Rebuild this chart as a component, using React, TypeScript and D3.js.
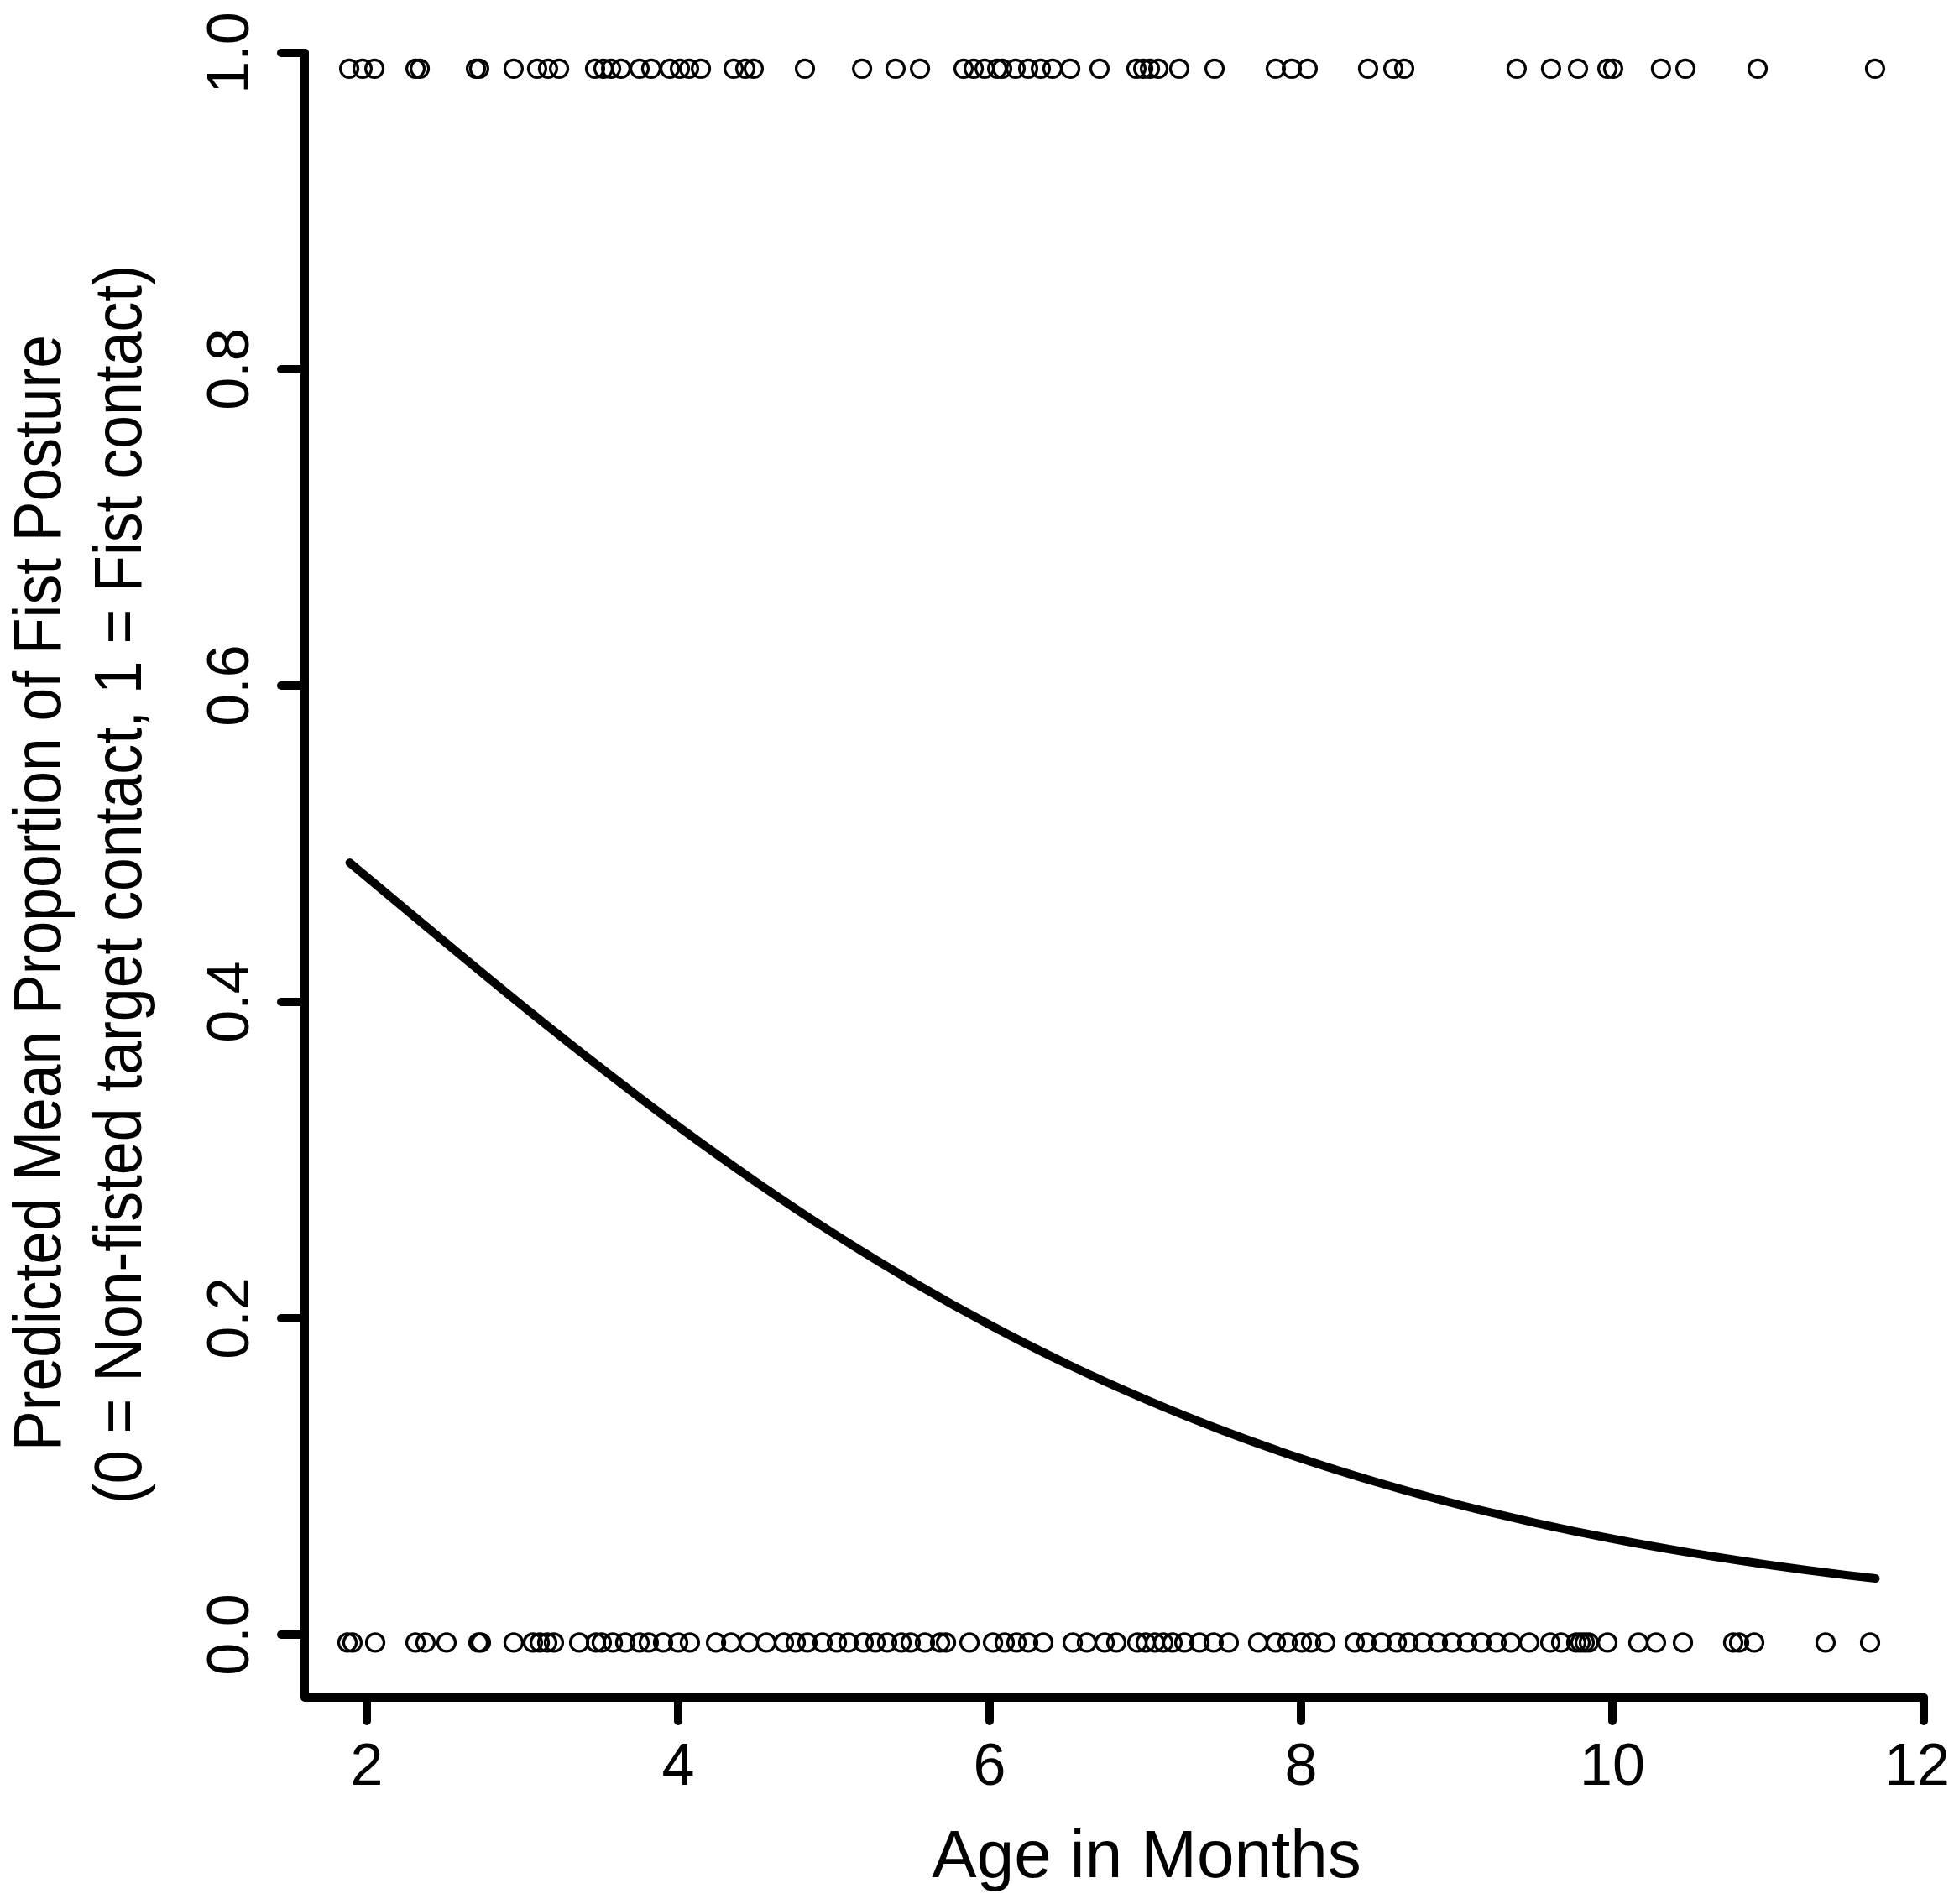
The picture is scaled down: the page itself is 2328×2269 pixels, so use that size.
import React from "react";
import * as d3 from "d3";

// Observed outcomes (age in months) — top row: fist contact (1), bottom row: non-fisted (0)
const fistAges = [
  1.887, 1.973, 2.049, 2.313, 2.34, 2.701, 2.722, 2.943, 3.094, 3.164, 3.235,
  3.466, 3.52, 3.569, 3.633, 3.752, 3.827, 3.946, 4.011, 4.07, 4.146, 4.356,
  4.431, 4.485, 4.814, 5.181, 5.396, 5.553, 5.833, 5.898, 5.968, 6.049, 6.081,
  6.167, 6.248, 6.329, 6.404, 6.518, 6.706, 6.943, 6.987, 7.03, 7.084, 7.218,
  7.445, 7.838, 7.941, 8.043, 8.431, 8.593, 8.663, 9.385, 9.606, 9.779, 9.968,
  10.005, 10.312, 10.469, 10.933, 11.687,
];
const nonFistAges = [
  1.876, 1.908, 2.054, 2.313, 2.377, 2.512, 2.717, 2.733, 2.943, 3.067, 3.111,
  3.159, 3.202, 3.364, 3.472, 3.509, 3.58, 3.66, 3.752, 3.811, 3.903, 4.0,
  4.075, 4.243, 4.34, 4.453, 4.566, 4.679, 4.755, 4.83, 4.927, 5.019, 5.094,
  5.191, 5.267, 5.342, 5.434, 5.493, 5.585, 5.682, 5.72, 5.871, 6.022, 6.097,
  6.173, 6.248, 6.345, 6.534, 6.625, 6.739, 6.814, 6.949, 7.003, 7.062, 7.116,
  7.175, 7.251, 7.348, 7.439, 7.536, 7.725, 7.838, 7.914, 8.005, 8.065, 8.156,
  8.345, 8.42, 8.517, 8.615, 8.69, 8.782, 8.879, 8.97, 9.067, 9.159, 9.256,
  9.348, 9.466, 9.601, 9.671, 9.768, 9.795, 9.822, 9.849, 9.968, 10.167, 10.28,
  10.453, 10.776, 10.814, 10.911, 11.369, 11.655,
];
const fistLevel = 0.99;
const nonFistLevel = -0.005;

// Predicted mean proportion curve
const curveAges = [
  1.89, 2.5, 3, 3.5, 4, 4.5, 5, 5.5, 6, 6.5, 7, 7.5, 8, 8.5, 9, 9.5, 10, 10.5,
  11, 11.5, 11.69,
];
const curveProps = [
  0.488, 0.438, 0.3976, 0.3586, 0.3213, 0.2862, 0.2535, 0.2234, 0.1959, 0.171,
  0.1488, 0.1289, 0.1114, 0.096, 0.0825, 0.0708, 0.0606, 0.0518, 0.0442,
  0.0377, 0.0355,
];

const xTicks = [2, 4, 6, 8, 10, 12];
const yTicks = [0, 0.2, 0.4, 0.6, 0.8, 1.0];

const xTitle = "Age in Months";
const yTitle1 = "Predicted Mean Proportion of Fist Posture";
const yTitle2 = "(0 = Non-fisted target contact, 1 = Fist contact)";

const W = 2328;
const H = 2269;
const FONT = "'Liberation Sans', Arial, Helvetica, sans-serif";

export default function App() {
  const x = d3.scaleLinear().domain([2, 12]).range([437, 2292]);
  const y = d3.scaleLinear().domain([0, 1]).range([1948, 63]);
  const left = x(1.601);
  const bottom = y(-0.0398);
  const top = y(1);
  const right = x(12);

  const line = d3
    .line<number>()
    .x((_, i) => x(curveAges[i]))
    .y((d) => y(d))
    .curve(d3.curveMonotoneX);

  const tickLen = 28;
  const axisW = 10;

  return (
    <svg
      width={W}
      height={H}
      viewBox={`0 0 ${W} ${H}`}
      style={{ position: "absolute", left: 0, top: 0, background: "#fff" }}
      fontFamily={FONT}
    >
      <rect x={0} y={0} width={W} height={H} fill="#fff" />
      {/* points */}
      <g fill="none" stroke="#000" strokeWidth={3.2}>
        {fistAges.map((a, i) => (
          <circle key={`f${i}`} cx={x(a)} cy={y(fistLevel)} r={10.5} />
        ))}
        {nonFistAges.map((a, i) => (
          <circle key={`n${i}`} cx={x(a)} cy={y(nonFistLevel)} r={10.5} />
        ))}
      </g>
      {/* fitted curve */}
      <path
        d={line(curveProps) || ""}
        fill="none"
        stroke="#000"
        strokeWidth={10}
        strokeLinecap="round"
        strokeLinejoin="round"
      />
      {/* axes (L-shaped box) */}
      <g stroke="#000" strokeWidth={axisW} strokeLinecap="round" fill="none" strokeLinejoin="round">
        <path d={`M${left},${top} L${left},${bottom} L${right},${bottom}`} />
        {yTicks.map((t) => (
          <line key={`yt${t}`} x1={left - tickLen} x2={left} y1={y(t)} y2={y(t)} />
        ))}
        {xTicks.map((t) => (
          <line key={`xt${t}`} x1={x(t)} x2={x(t)} y1={bottom} y2={bottom + tickLen} />
        ))}
      </g>
      {/* tick labels */}
      <g fontSize={70} fill="#000">
        {xTicks.map((t) => (
          <text key={`xl${t}`} x={Math.min(x(t), W - 44)} y={2127} textAnchor="middle">
            {d3.format("d")(t)}
          </text>
        ))}
        {yTicks.map((t) => (
          <text
            key={`yl${t}`}
            transform={`translate(296,${y(t)}) rotate(-90)`}
            textAnchor="middle"
          >
            {d3.format(".1f")(t)}
          </text>
        ))}
      </g>
      {/* titles */}
      <text x={1366} y={2237} fontSize={80} textAnchor="middle" fill="#000">
        {xTitle}
      </text>
      <text
        transform={`translate(72,1064) rotate(-90)`}
        fontSize={79}
        textAnchor="middle"
        fill="#000"
        textLength={1330}
        lengthAdjust="spacingAndGlyphs"
      >
        {yTitle1}
      </text>
      <text
        transform={`translate(168,1054) rotate(-90)`}
        fontSize={79}
        textAnchor="middle"
        fill="#000"
        textLength={1476}
        lengthAdjust="spacingAndGlyphs"
      >
        {yTitle2}
      </text>
    </svg>
  );
}
